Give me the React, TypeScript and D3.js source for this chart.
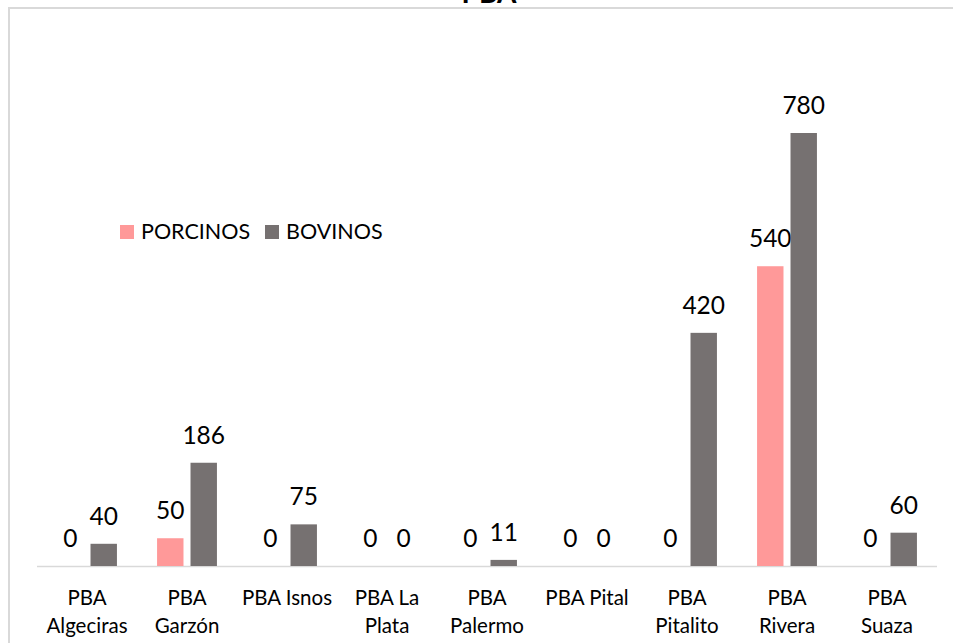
import React from "react";
import * as d3 from "d3";

const categories: string[][] = [
  ["PBA", "Algeciras"],
  ["PBA", "Garzón"],
  ["PBA Isnos"],
  ["PBA La", "Plata"],
  ["PBA", "Palermo"],
  ["PBA Pital"],
  ["PBA", "Pitalito"],
  ["PBA", "Rivera"],
  ["PBA", "Suaza"],
];
const porcinos = [0, 50, 0, 0, 0, 0, 0, 540, 0];
const bovinos = [40, 186, 75, 0, 11, 0, 420, 780, 60];
const seriesNames = ["PORCINOS", "BOVINOS"];
const colors = ["#FF9999", "#767171"];
const title = "PBA";

const W = 953;
const H = 643;
const FONT = "Lato, 'Open Sans', sans-serif";

export default function App() {
  const left = 37;
  const right = 937;
  const baseY = 566;
  const keys = categories.map((c) => c.join(" "));
  const x0 = d3.scaleBand<string>().domain(keys).range([left, right]).paddingInner(0).paddingOuter(0);
  const x1 = d3
    .scaleBand<string>()
    .domain(seriesNames)
    .range([0, x0.bandwidth()])
    .paddingInner(0.21)
    .paddingOuter(0.6);
  const y = d3.scaleLinear().domain([0, 780]).range([baseY, 133]);
  const series = [porcinos, bovinos];

  return (
    <svg
      width={W}
      height={H}
      style={{ position: "absolute", left: 0, top: 0, background: "#fff" }}
      fontFamily={FONT}
    >
      <rect x={0} y={0} width={W} height={H} fill="#fff" />
      <line x1={8} y1={8} x2={W} y2={8} stroke="#d9d9d9" strokeWidth={2} />
      <line x1={9} y1={8} x2={9} y2={H} stroke="#d9d9d9" strokeWidth={2} />
      <text x={489} y={3} textAnchor="middle" fontSize={28} fontWeight="bold" fill="#000">
        {title}
      </text>
      <line x1={left} y1={baseY + 0.5} x2={right} y2={baseY + 0.5} stroke="#d9d9d9" strokeWidth={1.5} />
      {keys.map((k, i) => (
        <g key={k}>
          {series.map((vals, s) => {
            const bx = x0(k)! + x1(seriesNames[s])!;
            const bw = x1.bandwidth();
            const v = vals[i];
            return (
              <g key={s}>
                {v > 0 && (
                  <rect x={bx} y={y(v)} width={bw} height={baseY - y(v)} fill={colors[s]} />
                )}
                <text
                  x={bx + bw / 2}
                  y={y(v) - 19}
                  textAnchor="middle"
                  fontSize={24.5}
                  fill="#000"
                >
                  {v}
                </text>
              </g>
            );
          })}
          {categories[i].map((line, li) => (
            <text
              key={li}
              x={x0(k)! + x0.bandwidth() / 2}
              y={605 + li * 28}
              textAnchor="middle"
              fontSize={20.5}
              fill="#000"
            >
              {line}
            </text>
          ))}
        </g>
      ))}
      <g>
        <rect x={120} y={225} width={14} height={14} fill={colors[0]} />
        <text x={141} y={239} fontSize={21.5} fill="#000">
          {seriesNames[0]}
        </text>
        <rect x={265} y={225} width={14} height={14} fill={colors[1]} />
        <text x={286} y={239} fontSize={21.5} fill="#000">
          {seriesNames[1]}
        </text>
      </g>
    </svg>
  );
}
